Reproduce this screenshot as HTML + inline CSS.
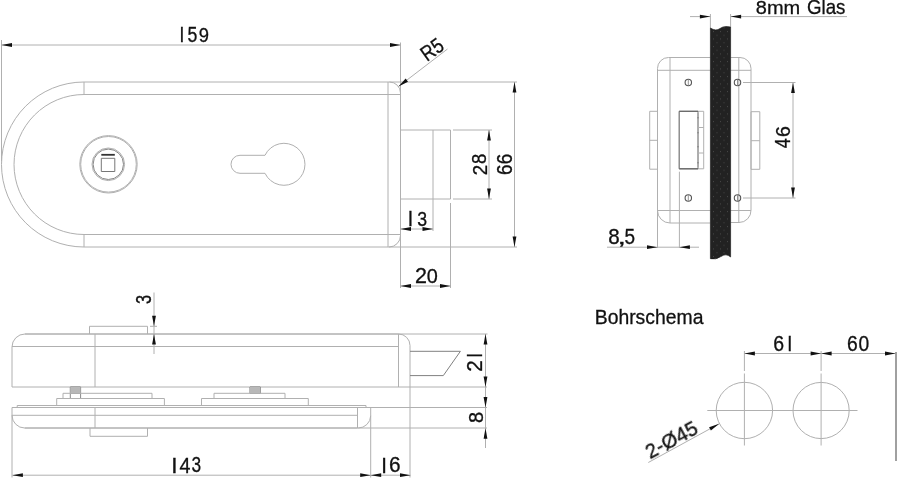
<!DOCTYPE html>
<html><head><meta charset="utf-8"><style>
html,body{margin:0;padding:0;background:#fff;width:897px;height:480px;overflow:hidden}
svg{display:block;font-family:"Liberation Sans",sans-serif}
</style></head><body>
<svg width="897" height="480" viewBox="0 0 897 480">
<defs><pattern id="dots" width="7" height="7.5" patternUnits="userSpaceOnUse" x="711" y="30"><rect x="2" y="1" width="1" height="1" fill="#4a4a4a"/><rect x="5.5" y="4.8" width="1" height="1" fill="#444"/></pattern></defs>
<rect width="897" height="480" fill="#fff"/>
<g fill="none" stroke="#b0b0b0" stroke-width="1">
<line x1="1.5" y1="45" x2="400.5" y2="45"/>
<line x1="1.5" y1="40" x2="1.5" y2="161"/>
<line x1="400.5" y1="42.5" x2="400.5" y2="288"/>
<path d="M84 82A82.5 82.5 0 0 0 84 247"/>
<line x1="84" y1="82" x2="517" y2="82"/>
<line x1="84" y1="247" x2="517" y2="247"/>
<path d="M84 94.5A70 70 0 0 0 84 234.5"/>
<line x1="84" y1="94.5" x2="400.5" y2="94.5"/>
<line x1="84" y1="234.5" x2="400.5" y2="234.5"/>
<line x1="84" y1="82" x2="84" y2="94.5"/>
<line x1="84" y1="234.5" x2="84" y2="247"/>
<line x1="388" y1="82" x2="388" y2="247"/>
<path d="M389.5 82A11 11 0 0 1 400.5 93"/>
<path d="M400.5 235.5A11.5 11.5 0 0 1 389 247"/>
<line x1="447.5" y1="49" x2="398.5" y2="86.5"/>
<circle cx="108.5" cy="164.3" r="28.7"/>
<circle cx="108.5" cy="164.3" r="27.8"/>
<circle cx="108.3" cy="164.3" r="16.3"/>
<circle cx="108.3" cy="164.3" r="15.2" stroke="#888"/>
<line x1="101.3" y1="154.8" x2="114.8" y2="154.8" stroke="#333" stroke-width="1.8"/>
<path d="M101.3 158.3H114.8V171.5H101.3Z" stroke="#777"/>
<path d="M265 155.3H240A8.85 8.85 0 0 0 240 173.3H265A21 21 0 1 0 265 155.3Z"/>
<path d="M400.5 130H450.5V199H400.5Z"/>
<line x1="433" y1="130" x2="433" y2="231"/>
<line x1="450.5" y1="203" x2="450.5" y2="288"/>
<line x1="453" y1="130" x2="492" y2="130"/>
<line x1="453" y1="199" x2="492" y2="199"/>
<line x1="489" y1="130" x2="489" y2="199"/>
<line x1="514.5" y1="82" x2="514.5" y2="247"/>
<line x1="400.5" y1="229" x2="433" y2="229"/>
<line x1="400.5" y1="286" x2="450.5" y2="286"/>
<path d="M12 387V347A13 13 0 0 1 25 334H398.5"/>
<line x1="25" y1="334" x2="487.5" y2="334"/>
<line x1="12" y1="387" x2="487" y2="387"/>
<line x1="12" y1="346.5" x2="398.5" y2="346.5"/>
<line x1="95" y1="334" x2="95" y2="387"/>
<line x1="398.5" y1="334" x2="398.5" y2="387"/>
<path d="M398.5 334A11.5 11.5 0 0 1 410 345.5"/>
<line x1="410" y1="345.5" x2="410" y2="477.5"/>
<path d="M89.5 334V326.3H147.5V334"/>
<line x1="150" y1="326.3" x2="157" y2="326.3"/>
<line x1="154" y1="292.5" x2="154" y2="354"/>
<path d="M410 351.3H460.4L443.3 375.6H410" stroke="#808080"/>
<line x1="485.5" y1="334" x2="485.5" y2="448"/>
<path d="M70.3 387H80.6V393.4H70.3Z" stroke="#777"/>
<line x1="70.3" y1="393.4" x2="70.3" y2="398.5" stroke="#888"/>
<line x1="80.6" y1="393.4" x2="80.6" y2="398.5" stroke="#888"/>
<path d="M250 387H260.3V393.4H250Z" stroke="#777"/>
<path d="M63 398.5V393.3H152V398.5"/>
<path d="M56.7 405.5V398.5H164.4V405.5"/>
<path d="M214 398.5V393.3H285V398.5"/>
<path d="M201.5 405.5V398.5H308.3V405.5"/>
<line x1="17.2" y1="405.5" x2="366" y2="405.5"/>
<line x1="17.2" y1="405.5" x2="17.2" y2="407.5"/>
<path d="M12 477.5V407.5"/>
<line x1="366" y1="405.5" x2="366" y2="407.5"/>
<line x1="12" y1="407.5" x2="487" y2="407.5"/>
<line x1="12" y1="415.3" x2="357.5" y2="415.3"/>
<path d="M12 415.3A12.7 12.7 0 0 0 24.7 428H357.5"/>
<line x1="24.7" y1="428" x2="487" y2="428"/>
<line x1="95" y1="407.5" x2="95" y2="428"/>
<line x1="357.5" y1="407.5" x2="357.5" y2="428"/>
<path d="M370.7 415.8A12.5 12.5 0 0 1 358.2 428"/>
<line x1="370.7" y1="407.5" x2="370.7" y2="477.5"/>
<path d="M90 428V436.3H147.5V428"/>
<line x1="12.4" y1="475.2" x2="410.5" y2="475.2"/>
<line x1="690" y1="16.6" x2="710.4" y2="16.6"/>
<line x1="730.6" y1="16.6" x2="847" y2="16.6"/>
<line x1="710.4" y1="14" x2="710.4" y2="28"/>
<line x1="730.6" y1="14" x2="730.6" y2="27"/>
<path d="M710.4 57.5H668.5A11 11 0 0 0 657.5 68.5V248"/>
<path d="M730.6 57.5H740A11 11 0 0 1 751 68.5V210A12 12 0 0 1 739 222.5H730.6"/>
<line x1="657.5" y1="70.3" x2="710.4" y2="70.3"/>
<line x1="730.6" y1="70.3" x2="751" y2="70.3"/>
<line x1="657.5" y1="210.5" x2="710.4" y2="210.5"/>
<line x1="730.6" y1="210.5" x2="751" y2="210.5"/>
<path d="M657.5 210.5A12.5 12.5 0 0 0 670 223H710.4"/>
<line x1="670" y1="57.5" x2="670" y2="223"/>
<line x1="738.8" y1="57.5" x2="738.8" y2="222.5"/>
<path d="M649.7 111.3H657.5V169.2H649.7Z"/>
<line x1="649.7" y1="140.3" x2="657.5" y2="140.3"/>
<path d="M751 111.7H759.8V169.3H751Z"/>
<line x1="751" y1="140.7" x2="759.8" y2="140.7"/>
<path d="M679.2 111.3H703.7V168.8H679.2Z"/>
<path d="M679.2 111.3H698V168.8H679.2Z" stroke="#777"/>
<line x1="679.2" y1="111.3" x2="698" y2="111.3" stroke="#666"/>
<line x1="679.2" y1="168.8" x2="698" y2="168.8" stroke="#666"/>
<line x1="698" y1="113" x2="698" y2="167" stroke="#999" stroke-width="0.8"/>
<line x1="698" y1="127.5" x2="703.7" y2="127.5"/>
<line x1="698" y1="153" x2="703.7" y2="153"/>
<line x1="679.4" y1="171.7" x2="679.4" y2="248"/>
<circle cx="688.3" cy="82.5" r="3.2" stroke="#555" stroke-width="1.1"/>
<line x1="688.3" y1="79.7" x2="688.3" y2="85.3" stroke="#777" stroke-width="0.8"/>
<circle cx="737.5" cy="82.5" r="3.2" stroke="#555" stroke-width="1.1"/>
<line x1="737.5" y1="79.7" x2="737.5" y2="85.3" stroke="#777" stroke-width="0.8"/>
<circle cx="688.3" cy="198" r="3.2" stroke="#555" stroke-width="1.1"/>
<line x1="688.3" y1="195.2" x2="688.3" y2="200.8" stroke="#777" stroke-width="0.8"/>
<circle cx="737.5" cy="198" r="3.2" stroke="#555" stroke-width="1.1"/>
<line x1="737.5" y1="195.2" x2="737.5" y2="200.8" stroke="#777" stroke-width="0.8"/>
<line x1="743" y1="82.5" x2="795.5" y2="82.5"/>
<line x1="743" y1="198" x2="795.5" y2="198"/>
<line x1="793" y1="82.5" x2="793" y2="198"/>
<line x1="607" y1="247.2" x2="699" y2="247.2"/>
<circle cx="744.4" cy="410.5" r="28.2"/>
<circle cx="821.1" cy="410.5" r="28.1"/>
<line x1="707.3" y1="410.5" x2="857.5" y2="410.5"/>
<line x1="744.4" y1="351" x2="744.4" y2="371"/>
<line x1="744.4" y1="373.5" x2="744.4" y2="445.5"/>
<line x1="821.1" y1="351" x2="821.1" y2="371"/>
<line x1="821.1" y1="373.5" x2="821.1" y2="445.5"/>
<line x1="744.4" y1="353.5" x2="896" y2="353.5"/>
<line x1="896" y1="352" x2="896" y2="461" stroke="#a0a0a0" stroke-width="2"/>
<line x1="648.3" y1="462.5" x2="719.2" y2="423.8"/>
</g>
<g fill="#111" stroke="none">
<path d="M1.50 45.00L12.00 43.10L12.00 46.90Z"/>
<path d="M400.50 45.00L390.00 46.90L390.00 43.10Z"/>
<path d="M398.50 86.50L405.68 78.61L407.99 81.63Z"/>
<path d="M489.00 130.00L490.90 140.50L487.10 140.50Z"/>
<path d="M489.00 199.00L487.10 188.50L490.90 188.50Z"/>
<path d="M514.50 82.00L516.40 92.50L512.60 92.50Z"/>
<path d="M514.50 247.00L512.60 236.50L516.40 236.50Z"/>
<path d="M400.50 229.00L411.00 227.10L411.00 230.90Z"/>
<path d="M433.00 229.00L422.50 230.90L422.50 227.10Z"/>
<path d="M400.50 286.00L411.00 284.10L411.00 287.90Z"/>
<path d="M450.50 286.00L440.00 287.90L440.00 284.10Z"/>
<path d="M154.00 326.30L152.10 315.80L155.90 315.80Z"/>
<path d="M154.00 334.00L155.90 344.50L152.10 344.50Z"/>
<path d="M485.50 334.00L487.40 344.50L483.60 344.50Z"/>
<path d="M485.50 387.00L483.60 376.50L487.40 376.50Z"/>
<path d="M485.50 407.50L483.60 397.00L487.40 397.00Z"/>
<path d="M485.50 428.30L487.40 438.80L483.60 438.80Z"/>
<rect x="70.3" y="387" width="10.3" height="6.4" fill="#b8b8b8"/>
<rect x="250" y="387" width="10.3" height="6.4" fill="#b8b8b8"/>
<path d="M12.40 475.20L22.90 473.30L22.90 477.10Z"/>
<path d="M370.70 475.20L360.20 477.10L360.20 473.30Z"/>
<path d="M370.70 475.20L381.20 473.30L381.20 477.10Z"/>
<path d="M410.50 475.20L400.00 477.10L400.00 473.30Z"/>
<path d="M710.4 28Q716 31.5 720 28.5T730.6 27V257Q726 253 721 256.5T710.4 258.7Z" fill="#222" stroke="#111" stroke-width="0.6"/>
<path d="M710.4 28Q716 31.5 720 28.5T730.6 27V257Q726 253 721 256.5T710.4 258.7Z" fill="url(#dots)"/>
<path d="M710.40 16.60L699.90 18.50L699.90 14.70Z"/>
<path d="M730.60 16.60L741.10 14.70L741.10 18.50Z"/>
<rect x="697.3" y="117" width="1.4" height="1.4" fill="#888"/>
<rect x="697.3" y="132" width="1.4" height="1.4" fill="#888"/>
<rect x="697.3" y="146" width="1.4" height="1.4" fill="#888"/>
<rect x="697.3" y="162" width="1.4" height="1.4" fill="#888"/>
<path d="M793.00 82.50L794.90 93.00L791.10 93.00Z"/>
<path d="M793.00 198.00L791.10 187.50L794.90 187.50Z"/>
<path d="M657.50 247.20L647.00 249.10L647.00 245.30Z"/>
<path d="M679.40 247.20L689.90 245.30L689.90 249.10Z"/>
<path d="M744.40 353.50L754.90 351.60L754.90 355.40Z"/>
<path d="M821.10 353.50L810.60 355.40L810.60 351.60Z"/>
<path d="M821.10 353.50L831.60 351.60L831.60 355.40Z"/>
<path d="M895.50 353.50L885.00 355.40L885.00 351.60Z"/>
<path d="M719.20 423.80L710.89 430.50L709.07 427.16Z"/>
</g>
<g fill="#111" stroke="#111" stroke-width="0.3" font-family="Liberation Sans, sans-serif" style="will-change:transform">
<text font-size="20" transform="translate(181.95 34.60) scale(0.8578 1.0756) translate(-2.778 6.880)">I</text>
<text font-size="20" transform="translate(192.40 34.60) scale(0.8858 1.0605) translate(-5.542 6.782)">5</text>
<text font-size="20" transform="translate(203.85 34.60) scale(0.9201 1.0452) translate(-5.557 6.885)">9</text>
<text font-size="20" transform="translate(432.30 49.30) rotate(-35.6) scale(0.8880 1.0677) translate(-13.184 6.782)">R5</text>
<text font-size="20" transform="translate(479.25 170.15) rotate(-90) scale(0.9329 1.0526) translate(-5.562 6.982)">2</text>
<text font-size="20" transform="translate(479.25 158.75) rotate(-90) scale(0.9270 1.0381) translate(-5.562 6.885)">8</text>
<text font-size="20" transform="translate(504.57 169.65) rotate(-90) scale(0.9427 1.0840) translate(-5.630 6.885)">6</text>
<text font-size="20" transform="translate(504.57 159.05) rotate(-90) scale(0.9427 1.0840) translate(-5.630 6.885)">6</text>
<text font-size="20" transform="translate(410.45 218.45) scale(0.9650 1.0683) translate(-2.778 6.880)">I</text>
<text font-size="20" transform="translate(422.00 218.45) scale(0.8858 1.0381) translate(-5.503 6.885)">3</text>
<text font-size="20" transform="translate(421.10 275.75) scale(1.0756 1.0670) translate(-5.562 6.982)">2</text>
<text font-size="20" transform="translate(432.35 275.75) scale(0.9937 1.0522) translate(-5.562 6.885)">0</text>
<text font-size="20" transform="translate(143.60 299.60) rotate(-90) scale(0.8173 1.1123) translate(-5.503 6.885)">3</text>
<text font-size="20" transform="translate(474.80 355.32) rotate(-90) scale(0.7774 1.0901) translate(-2.778 6.880)">I</text>
<text font-size="20" transform="translate(474.80 366.10) rotate(-90) scale(1.0317 1.0741) translate(-5.562 6.982)">2</text>
<text font-size="20" transform="translate(475.60 417.50) rotate(-90) scale(1.0016 1.0346) translate(-5.562 6.885)">8</text>
<text font-size="20" transform="translate(174.50 465.10) scale(1.1259 1.1047) translate(-2.778 6.880)">I</text>
<text font-size="20" transform="translate(184.95 465.10) scale(0.9823 1.1047) translate(-5.498 6.880)">4</text>
<text font-size="20" transform="translate(196.30 465.10) scale(0.8648 1.0734) translate(-5.503 6.885)">3</text>
<text font-size="20" transform="translate(384.00 465.20) scale(1.0186 1.0901) translate(-2.778 6.880)">I</text>
<text font-size="20" transform="translate(394.80 465.20) scale(1.0403 1.0593) translate(-5.630 6.885)">6</text>
<text font-size="20" transform="translate(777.85 7.80) scale(1.0010 0.9463) translate(-21.997 6.885)">8mm</text>
<text font-size="20" transform="translate(826.40 7.40) scale(0.9341 0.9668) translate(-20.703 7.148)">Glas</text>
<text font-size="20" transform="translate(782.92 143.25) rotate(-90) scale(0.8930 1.0647) translate(-5.498 6.880)">4</text>
<text font-size="20" transform="translate(782.92 131.60) rotate(-90) scale(0.9752 1.0346) translate(-5.630 6.885)">6</text>
<text font-size="20" transform="translate(614.08 237.10) scale(1.0283 1.0734) translate(-5.562 6.885)">8</text>
<text font-size="20" transform="translate(629.80 237.10) scale(0.9491 1.0892) translate(-5.542 6.782)">5</text>
<text font-size="20" transform="translate(621.80 244.60) scale(1.5284 0.9580) translate(-2.778 -0.210)">,</text>
<text font-size="20" transform="translate(649.90 316.20) scale(0.9685 1.0213) translate(-56.958 7.148)">Bohrschema</text>
<text font-size="20" transform="translate(778.80 343.40) scale(0.9752 1.0734) translate(-5.630 6.885)">6</text>
<text font-size="20" transform="translate(789.90 343.40) scale(0.9114 1.1047) translate(-2.778 6.880)">I</text>
<text font-size="20" transform="translate(852.45 343.60) scale(0.9644 1.0734) translate(-5.630 6.885)">6</text>
<text font-size="20" transform="translate(863.90 343.60) scale(0.9623 1.0734) translate(-5.562 6.885)">0</text>
<text font-size="20" transform="translate(671.40 439.40) rotate(-28.3) scale(1.0141 1.0452) translate(-27.876 6.885)">2-Ø45</text>
</g>
</svg>
</body></html>
